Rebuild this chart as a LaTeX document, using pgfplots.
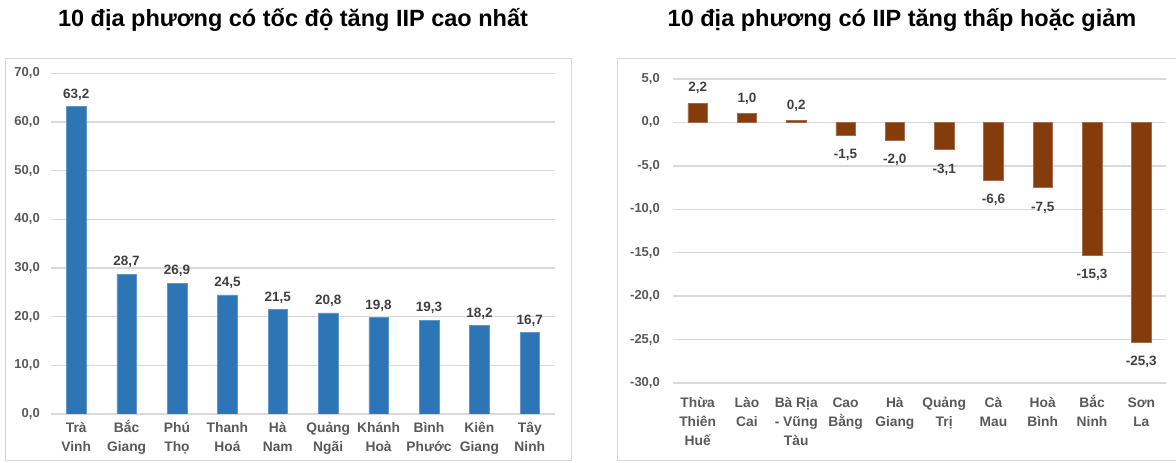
\documentclass[border=0pt]{standalone}
\usepackage{pgfplots}
\pgfplotsset{compat=1.18}
\usepackage{fontspec}
\setmainfont{Liberation Sans}

\definecolor{barblue}{HTML}{2E75B6}
\definecolor{barbrown}{HTML}{843C0C}
\definecolor{gridgray}{HTML}{D9D9D9}
\definecolor{ticktext}{HTML}{595959}
\definecolor{valtext}{HTML}{404040}

% strut cho dong dau cua nhan truc x
\newcommand{\fl}{\rule{0pt}{15pt}}

\pgfplotsset{
  iipbase/.style={
    scale only axis,
    ybar, bar width=19.5pt, bar shift=0pt,
    xmin=-0.5, xmax=9.5,
    xtick={0,...,9},
    axis line style={draw=none},
    major tick length=0pt,
    ymajorgrids, grid style={gridgray, line width=1.3pt},
    tick label style={text=ticktext},
    xticklabel style={font=\bfseries\fontsize{13.8}{19}\selectfont,
      align=center, anchor=north, inner sep=0pt},
    yticklabel style={font=\bfseries\fontsize{13}{15}\selectfont,
      anchor=east, inner sep=0pt,
      /pgf/number format/fixed, /pgf/number format/fixed zerofill,
      /pgf/number format/precision=1, /pgf/number format/use comma,
      /pgf/number format/assume math mode=true},
    point meta=explicit symbolic,
    nodes near coords,
    nodes near coords style={font=\bfseries\fontsize{13.5}{15}\selectfont, text=valtext},
  }
}

\begin{document}
\begin{tikzpicture}[x=1pt,y=1pt]
\useasboundingbox (0,0) rectangle (1176,463);

% khung hai panel
\draw[gridgray, line width=1pt] (5,2) rectangle (571,404);
\draw[gridgray, line width=1pt] (1176,404) -- (617,404) -- (617,2) -- (1176,2);

% tieu de
\node[font=\bfseries\fontsize{23.5}{28}\selectfont, anchor=base] at (293,436) {10 địa phương có tốc độ tăng IIP cao nhất};
\node[font=\bfseries\fontsize{23.5}{28}\selectfont, anchor=base] at (902,436) {10 địa phương có IIP tăng thấp hoặc giảm};

% bieu do trai
\begin{axis}[iipbase,
    at={(51pt,49pt)}, anchor=south west,
    width=504pt, height=340.7pt,
    ymin=0, ymax=70, ytick={0,10,...,70},
    xticklabels={{\fl Trà\\Vinh},{\fl Bắc\\Giang},{\fl Phú\\Thọ},{\fl Thanh\\Hoá},{\fl Hà\\Nam},
      {\fl Quảng\\Ngãi},{\fl Khánh\\Hoà},{\fl Bình\\Phước},{\fl Kiên\\Giang},{\fl Tây\\Ninh}},
    xticklabel style={yshift=-3pt},
    yticklabel style={xshift=-11pt},
    nodes near coords style={inner sep=6pt},
]
\addplot[fill=barblue, draw=barblue!75!white, line width=0.5pt] coordinates {
  (0,63.2) [63,2] (1,28.7) [28,7] (2,26.9) [26,9] (3,24.5) [24,5] (4,21.5) [21,5]
  (5,20.8) [20,8] (6,19.8) [19,8] (7,19.3) [19,3] (8,18.2) [18,2] (9,16.7) [16,7]
};
\end{axis}

% bieu do phai
\begin{axis}[iipbase,
    at={(673pt,80pt)}, anchor=south west,
    width=493pt, height=304pt,
    ymin=-30, ymax=5, ytick={-30,-25,...,5},
    xticklabels={{\fl Thừa\\Thiên\\Huế},{\fl Lào\\Cai},{\fl Bà Rịa\\- Vũng\\Tàu},{\fl Cao\\Bằng},{\fl Hà\\Giang},
      {\fl Quảng\\Trị},{\fl Cà\\Mau},{\fl Hoà\\Bình},{\fl Bắc\\Ninh},{\fl Sơn\\La}},
    xticklabel style={yshift=-9pt},
    yticklabel style={xshift=-13pt},
]
\addplot[fill=barbrown, draw=barbrown!75!white, line width=0.5pt,
    nodes near coords style={anchor=south, inner sep=9pt}] coordinates {
  (0,2.2) [2,2] (1,1.0) [1,0] (2,0.2) [0,2]
};
\addplot[fill=barbrown, draw=barbrown!75!white, line width=0.5pt,
    nodes near coords style={anchor=north, inner sep=14pt}] coordinates {
  (3,-1.5) [-1,5] (4,-2.0) [-2,0] (5,-3.1) [-3,1] (6,-6.6) [-6,6]
  (7,-7.5) [-7,5] (8,-15.3) [-15,3] (9,-25.3) [-25,3]
};
\end{axis}
\end{tikzpicture}
\end{document}
